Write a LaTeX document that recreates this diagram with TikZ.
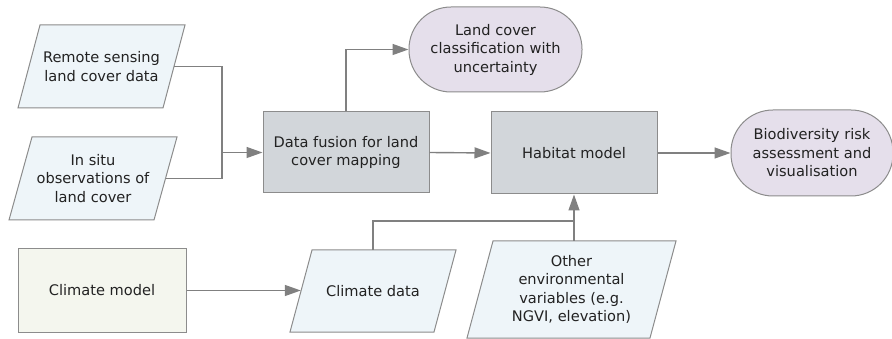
\documentclass[tikz,border=0pt]{standalone}
\usepackage{fontspec}
\setmainfont{DejaVu Sans}
\usetikzlibrary{arrows.meta}
\definecolor{paraFill}{HTML}{EEF5F9}
\definecolor{procFill}{HTML}{D2D6DA}
\definecolor{termFill}{HTML}{E5DFEB}
\definecolor{modelFill}{HTML}{F4F6EE}
\definecolor{edgeCol}{HTML}{8C8C8C}
\definecolor{lineCol}{HTML}{808080}
\definecolor{txtCol}{HTML}{222222}
\newcommand\paranode[7]{%
  \draw[parashape] (#2-#4/2+#6/2,#3-#5/2) -- ++(#4,0) -- ++(-#6,#5) -- ++(-#4,0) -- cycle;
  \node[ptext, minimum width=#4pt, minimum height=#5pt] (#1) at (#2,#3) {#7};}
\begin{document}
\begin{tikzpicture}[x=1pt,y=-1pt,
  every node/.style={font=\fontsize{14.6}{18.5}\selectfont, text=txtCol, align=center, inner sep=0pt},
  parashape/.style={draw=edgeCol, line width=1pt, fill=paraFill},
  ptext/.style={rectangle},
  procbox/.style={rectangle, draw=edgeCol, line width=1pt, fill=procFill},
  modelbox/.style={rectangle, draw=edgeCol, line width=1pt, fill=modelFill},
  termbox/.style={rectangle, draw=edgeCol, line width=1pt, fill=termFill, rounded corners=42pt},
  link/.style={draw=lineCol, line width=1.4pt},
  arr/.style={link, -{Triangle[length=16pt, width=11pt]}}]
\useasboundingbox (0,0) rectangle (892,339);
\clip (0,0) rectangle (892,339);
% input data parallelograms
\paranode{rs}{101.5}{66.5}{145}{83}{22}{Remote sensing\\land cover data}
\paranode{is}{93}{178.5}{145}{83}{23}{In situ\\observations of\\land cover}
\paranode{cd}{373}{291}{144}{82}{22}{Climate data}
\paranode{oe}{571.5}{289.5}{183}{97}{26}{Other\\environmental\\variables (e.g.\\NGVI, elevation)}
% process boxes
\node[procbox, minimum width=166pt, minimum height=81pt] (df) at (346,152.5) {Data fusion for land\\cover mapping};
\node[procbox, minimum width=166pt, minimum height=82pt] (hab) at (574,153) {Habitat model};
\node[modelbox, minimum width=168pt, minimum height=83pt] (cm) at (102,290.5) {Climate model};
% terminal shapes
\node[termbox, minimum width=173pt, minimum height=85pt] (lc) at (495.5,49.5) {Land cover\\classification with\\uncertainty};
\node[termbox, minimum width=162pt, minimum height=86pt] (bio) at (812,153) {Biodiversity risk\\assessment and\\visualisation};
% connectors
\coordinate (jn) at (222,152.5);
\coordinate (mg) at (574,221);
\draw[link] (rs.east) -| (jn);
\draw[link] (is.east) -| (jn);
\draw[arr] (jn) -- (df.west);
\draw[arr] (df.north) |- (lc.west);
\draw[arr] (df.east) -- (hab.west);
\draw[arr] (hab.east) -- (bio.west);
\draw[arr] (cm.east) -- (cm.east -| cd.west);
\draw[link] (cd.north) |- (mg);
\draw[arr] (oe.north -| hab.south) -- (hab.south);
\end{tikzpicture}
\end{document}
